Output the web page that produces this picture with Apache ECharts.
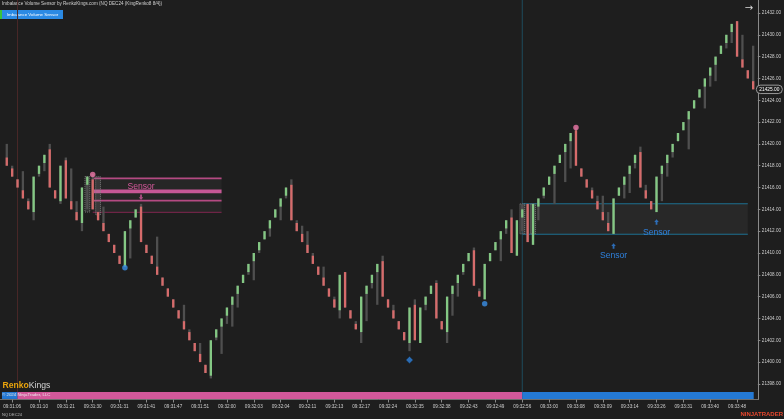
<!DOCTYPE html>
<html><head><meta charset="utf-8">
<script src="https://cdn.jsdelivr.net/npm/echarts@6/dist/echarts.min.js"></script>
<style>html,body{margin:0;padding:0;background:#1e1e1e;}#c{width:784px;height:419px;}</style>
</head><body><div id="c"></div><script>
// ---- DATA ----
const opens=[21418.75,21417.75,21416.75,21415.75,21414.75,21413.75,21417.25,21418.25,21419.5,21415.75,
21414.75,21418.5,21414.75,21413.75,21412.75,21416.25,21416.75,21413.75,21412.75,21411.75,
21410.75,21409.75,21408.75,21412.25,21413.25,21414.25,21410.75,21409.75,21408.75,21407.75,
21406.75,21405.75,21404.75,21403.75,21402.75,21401.75,21400.75,21399.75,21398.75,21402.25,
21403.25,21404.25,21405.25,21406.25,21407.25,21408.25,21409.25,21410.25,21411.25,21412.25,
21413.25,21414.25,21415.25,21416.25,21412.75,21411.75,21410.75,21409.75,21408.75,21407.75,
21406.75,21405.75,21404.75,21408.25,21404.75,21403.5,21402.75,21406.25,21407.25,21408.25,
21409.25,21405.75,21404.75,21403.75,21402.75,21401.75,21405.25,21401.75,21405.25,21406.25,
21407.25,21403.75,21402.75,21406.25,21407.25,21408.25,21409.25,21410.25,21406.5,21405.75,
21409.25,21410.25,21411.25,21412.25,21413.25,21409.75,21413.25,21414.5,21410.75,21414.25,
21415.25,21416.25,21417.25,21418.25,21419.25,21420.25,21421.25,21417.75,21416.75,21415.75,
21414.75,21413.75,21412.75,21411.75,21415.25,21416.25,21417.25,21418.25,21419.25,21415.75,
21414.75,21413.75,21417.25,21418.25,21419.25,21420.25,21421.25,21422.25,21423.25,21424.25,
21425.25,21426.25,21427.25,21428.25,21429.25,21430.25,21431.25,21427.75,21426.75,21425.75];
const closes=[21418,21417,21416,21415,21414,21417,21418,21419,21416,21415,
21418,21415,21414,21413,21416,21417,21414,21413,21412,21411,
21410,21409,21412,21413,21414,21411,21410,21409,21408,21407,
21406,21405,21404,21403,21402,21401,21400,21399,21402,21403,
21404,21405,21406,21407,21408,21409,21410,21411,21412,21413,
21414,21415,21416,21413,21412,21411,21410,21409,21408,21407,
21406,21405,21408,21405,21404,21403,21406,21407,21408,21409,
21406,21405,21404,21403,21402,21405,21402,21405,21406,21407,
21404,21403,21406,21407,21408,21409,21410,21407,21406,21409,
21410,21411,21412,21413,21410,21413,21414,21411,21414.5,21415,
21416,21417,21418,21419,21420,21421,21418,21417,21416,21415,
21414,21413,21412,21415,21416,21417,21418,21419,21416,21415,
21414,21417,21418,21419,21420,21421,21422,21423,21424,21425,
21426,21427,21428,21429,21430,21431,21428,21427,21426,21425];
const highs=[21420,21418,21416.75,21417.5,21415,21417,21418,21419,21420,21415.75,
21418,21418.75,21417.75,21414.75,21416,21417,21417.25,21413.75,21414.25,21411.75,
21410.75,21409.75,21412,21413,21414,21414.5,21410.75,21409.75,21411.5,21407.75,
21406.75,21405.75,21404.75,21405.25,21403,21401.75,21401.75,21399.75,21402,21403,
21404,21405,21406,21407,21408,21409,21410,21411,21412,21413,
21414,21415,21416,21416.75,21413,21412.5,21412,21410,21408.75,21408.75,
21406.75,21406,21408,21408.25,21404.75,21403.75,21406,21407,21408,21409,
21409.75,21405.75,21405.25,21403.75,21402.75,21405,21405.75,21405,21406,21407,
21407.5,21403.75,21406,21407,21408,21409,21410,21410.5,21406.75,21409,
21410,21411,21412,21413,21414,21413,21414.5,21414.5,21414.5,21415,
21416,21417,21418,21419,21420,21421,21421.5,21417.75,21416.75,21416,
21415.25,21415.25,21413.75,21415,21416,21417,21418,21419,21419.75,21416.25,
21414.75,21417,21418,21419,21420,21421,21422,21423,21424,21425,
21426,21427,21428,21429,21430,21431,21431.25,21430,21426.75,21429];
const lows=[21418,21417,21416,21415,21414,21413,21417,21417.5,21416,21415,
21414.5,21415,21414,21413,21412,21414,21414,21413,21412,21411,
21410,21409,21408.75,21409.5,21413.25,21411,21410,21409,21408,21407,
21406,21405,21404,21403,21402,21401,21400,21399,21398.5,21402,
21400.75,21403.5,21403.25,21405,21407.25,21408,21407.5,21410,21411.25,21411.5,
21413.25,21413,21415,21413,21412,21411,21410,21409,21408,21407,
21406,21405,21404,21405,21404,21403,21401.75,21403.75,21406.75,21405.25,
21406,21405,21404,21403,21402,21401,21402,21401.75,21404.75,21406.25,
21404,21403,21401.75,21404.25,21406,21408,21409.25,21407,21406,21405.75,
21409.25,21410.25,21409.25,21411.75,21410,21409.75,21412,21411,21410.75,21413,
21415,21416.25,21414.5,21418.25,21416.5,21417.75,21418,21417,21416,21415,
21414,21413,21412,21411.75,21415.25,21415,21415.5,21417.75,21416,21415,
21414,21413.75,21414.75,21417,21418.75,21420.25,21421.25,21419.5,21423.25,21424.25,
21423.25,21425.25,21425.75,21428.25,21428.75,21429.25,21428,21427,21426,21425];
const tickIdx=[1,6,11,16,21,26,31,36,41,46,51,56,61,66,71,76,81,86,91,96,101,106,111,116,121,126,131,136];
const timeLabels=['09:31:06','09:31:10','09:31:21','09:31:30','09:31:31','09:31:41','09:31:47','09:31:51','09:32:00','09:32:03','09:32:04','09:32:11','09:32:13','09:32:17','09:32:24','09:32:35','09:32:38','09:32:43','09:32:49','09:32:56','09:33:00','09:33:08','09:33:09','09:33:14','09:33:26','09:33:31','09:33:40','09:33:48'];
const priceTicks=[21398,21400,21402,21404,21406,21408,21410,21412,21414,21416,21418,21420,21422,21424,21426,21428,21430,21432];
// zones: [fromIdx, toIdx, top, bottom, kind]
const zones=[[16,40,21416.85,21413.73,'pink'],[96,138,21414.52,21411.72,'blue']];
const pinkZoneInner=[21415.65,21414.8];
// imbalance cells: [idx, top, bottom]
const cells=[[15,21417,21413.75],[17,21417,21413.5],[96,21414.5,21411.75],[98,21414.5,21411.75]];
const pinkDots=[[16,21417.2],[106,21421.5]];
const blueDots=[[22,21408.65],[89,21405.35]];
const blueDiamonds=[[75,21400.2]];
const pinkArrows=[[25,21415.1]];
const blueArrows=[[113,21410.65],[121,21412.85]];
const sensorTexts=[[25,21416.1,'pink'],[113,21409.8,'blue'],[121,21411.9,'blue']];
const sessionLines=[[2,'maroon'],[96,'teal']];
const strip=[[-0.9,2,'blue'],[2,96,'pink'],[96,139.1,'blue']];

// ---- STYLE ----
const BG='#1e1e1e', GREEN='#84c884', RED='#d66b6b', WICK='#4f4f4f';
const PINK='#d2589a', BLUE='#2479d4', SBLUE='#2f80dc';
const FONT='"Liberation Sans", Arial, sans-serif';
const XMIN=-1.264, XMAX=139.87;
const YMIN=21396.57, YMAX=21433.19;
const STRIP_TOP=21397.26, STRIP_BOT=21396.62;

const candleData=opens.map((o,i)=>[i,o,closes[i],lows[i],highs[i]]);
const labelMap={}; tickIdx.forEach((t,k)=>labelMap[t]=timeLabels[k]);
const lastClose=closes[closes.length-1];

const chart=echarts.init(document.getElementById('c'),null,{renderer:'canvas'});
chart.setOption({
  backgroundColor:BG,
  animation:false,
  grid:{left:0,right:25,top:0,bottom:19.5},
  xAxis:{type:'value',min:XMIN,max:XMAX,
    axisLine:{show:true,onZero:false,lineStyle:{color:'#6e6e6e',width:1}},
    axisTick:{show:true,length:3,customValues:tickIdx,lineStyle:{color:'#8a8a8a'}},
    axisLabel:{customValues:tickIdx,formatter:v=>labelMap[v]||'',color:'#cfcfcf',fontSize:4.6,fontFamily:FONT,margin:5},
    splitLine:{show:false}},
  yAxis:{type:'value',position:'right',min:YMIN,max:YMAX,
    axisLine:{show:true,onZero:false,lineStyle:{color:'#8a8a8a',width:1}},
    axisTick:{show:true,length:2.5,customValues:priceTicks,lineStyle:{color:'#8a8a8a'}},
    axisLabel:{customValues:priceTicks,formatter:v=>v.toFixed(2),color:'#cfcfcf',fontSize:4.6,fontFamily:FONT,margin:4},
    splitLine:{show:false}},
  graphic:[
    {type:'text',left:2,top:1.5,style:{text:'Imbalance Volume Sensor by RenkoKings.com (NQ DEC24 (KingRenko8 8/4))',fill:'#d0d0d0',fontSize:4.6,fontFamily:FONT}},
    {type:'rect',shape:{x:0,y:10,width:2,height:9},style:{fill:'#3bc23b'}},
    {type:'rect',shape:{x:2,y:10,width:61,height:9},style:{fill:'#2b8ae4'}},
    {type:'text',x:32.5,y:14.5,style:{text:'Imbalance Volume Sensor',fill:'#ffffff',fontSize:4.4,fontFamily:FONT,align:'center',verticalAlign:'middle'}},
    {type:'text',x:749,y:8,style:{text:'→',fill:'#dcdcdc',fontSize:10,fontFamily:'DejaVu Sans',align:'center',verticalAlign:'middle'}},
    {type:'text',x:2.5,y:385.5,style:{rich:{a:{fill:'#e9a30c',fontSize:8.6,fontWeight:'bold',fontFamily:FONT},b:{fill:'#d4d4d4',fontSize:8.6,fontFamily:FONT}},text:'{a|Renko}{b|Kings}',verticalAlign:'middle'},z:20},
    {type:'text',x:2,y:394.7,style:{text:'© 2024 NinjaTrader, LLC',fill:'#e8e8e8',fontSize:4.4,fontFamily:FONT,verticalAlign:'middle'},z:20},
    {type:'text',x:2,y:415,style:{text:'NQ DEC24',fill:'#bdbdbd',fontSize:4,fontFamily:FONT,verticalAlign:'middle'}},
    {type:'text',x:783,y:414,style:{text:'NINJATRADER',fill:'#e8472e',fontSize:6,fontWeight:'bold',fontFamily:FONT,align:'right',verticalAlign:'middle'}}
  ],
  series:[
    {type:'custom',name:'zones',z:1,data:zones,renderItem:(p,api)=>{
      const z=zones[p.dataIndex];
      const a=api.coord([z[0],z[2]]), b=api.coord([z[1],z[3]]);
      const ch=[{type:'rect',shape:{x:a[0],y:a[1],width:b[0]-a[0],height:b[1]-a[1]},style:{fill:z[4]==='pink'?'#262626':'#282828'}}];
      if(z[4]==='pink'){
        const m1=api.coord([z[0],pinkZoneInner[0]]), m2=api.coord([z[0],pinkZoneInner[1]]);
        ch.push({type:'rect',shape:{x:a[0],y:a[1]-0.8,width:b[0]-a[0],height:1.8},style:{fill:'#b44a82'}});
        ch.push({type:'rect',shape:{x:a[0],y:m1[1]-1.8,width:b[0]-a[0],height:3.6},style:{fill:'#c65795'}});
        ch.push({type:'rect',shape:{x:a[0],y:m2[1]-0.9,width:b[0]-a[0],height:1.8},style:{fill:'#b44a82'}});
        ch.push({type:'rect',shape:{x:a[0],y:b[1]-0.6,width:b[0]-a[0],height:1.2},style:{fill:'#6e2446'}});
      } else {
        ch.push({type:'rect',shape:{x:a[0],y:a[1]-0.5,width:b[0]-a[0],height:1},style:{fill:'#1d6f90'}});
        ch.push({type:'rect',shape:{x:a[0],y:b[1]-0.5,width:b[0]-a[0],height:1},style:{fill:'#1d6f90'}});
      }
      return {type:'group',children:ch};
    }},
    {type:'custom',name:'sessions',z:2,data:sessionLines,renderItem:(p,api)=>{
      const s=sessionLines[p.dataIndex];
      const a=api.coord([s[0],YMAX]), b=api.coord([s[0],STRIP_BOT]);
      return {type:'rect',shape:{x:a[0]-0.5,y:a[1],width:1,height:b[1]-a[1]},style:{fill:s[1]==='maroon'?'#4a2828':'#1f4b5c'}};
    }},
    {type:'custom',name:'strip',z:3,data:strip,renderItem:(p,api)=>{
      const s=strip[p.dataIndex];
      const a=api.coord([s[0],STRIP_TOP]), b=api.coord([s[1],STRIP_BOT]);
      return {type:'rect',shape:{x:a[0],y:a[1],width:b[0]-a[0],height:b[1]-a[1]},style:{fill:s[2]==='pink'?PINK:BLUE}};
    }},
    {type:'custom',name:'cells',z:4,data:cells,renderItem:(p,api)=>{
      const c=cells[p.dataIndex];
      const a=api.coord([c[0],c[1]]), b=api.coord([c[0],c[2]]);
      return {type:'rect',shape:{x:a[0]-2.4,y:a[1],width:4.8,height:b[1]-a[1]},style:{fill:'rgba(150,150,150,0.18)',stroke:'#8a8a8a',lineWidth:0.8,lineDash:[1,1]}};
    }},
    {type:'custom',name:'candles',z:5,data:candleData,encode:{x:0,y:[1,2,3,4]},renderItem:(p,api)=>{
      const i=api.value(0),o=api.value(1),c=api.value(2),l=api.value(3),h=api.value(4);
      const t=api.coord([i,h]),bt=api.coord([i,l]),po=api.coord([i,o]),pc=api.coord([i,c]);
      const x=t[0], w=2.3;
      return {type:'group',children:[
        {type:'rect',shape:{x:x-w/2,y:t[1],width:w,height:Math.max(1,bt[1]-t[1])},style:{fill:WICK}},
        {type:'rect',shape:{x:x-w/2,y:Math.min(po[1],pc[1]),width:w,height:Math.max(1,Math.abs(po[1]-pc[1]))},style:{fill:c>o?GREEN:RED}}
      ]};
    }},
    {type:'scatter',name:'pinkDots',z:6,data:pinkDots,symbol:'circle',symbolSize:5.5,itemStyle:{color:'#ee77a8'}},
    {type:'scatter',name:'blueDots',z:6,data:blueDots,symbol:'circle',symbolSize:5.5,itemStyle:{color:'#3a8ee6'}},
    {type:'scatter',name:'diamonds',z:6,data:blueDiamonds,symbol:'diamond',symbolSize:7,itemStyle:{color:'#2f7fd8',borderColor:'#103050',borderWidth:0.6}},
    {type:'scatter',name:'pinkArrows',z:6,data:pinkArrows,symbol:'path://M3,10 L7,10 L7,5 L10,5 L5,0 L0,5 L3,5 Z',symbolRotate:180,symbolSize:[4.5,5.5],itemStyle:{color:'#d0579a'}},
    {type:'scatter',name:'blueArrows',z:6,data:blueArrows,symbol:'path://M3,10 L7,10 L7,5 L10,5 L5,0 L0,5 L3,5 Z',symbolSize:[4.5,5.5],itemStyle:{color:SBLUE}},
    {type:'custom',name:'sensorText',z:7,data:sensorTexts,renderItem:(p,api)=>{
      const s=sensorTexts[p.dataIndex];
      const a=api.coord([s[0],s[1]]);
      return {type:'text',x:a[0],y:a[1],style:{text:'Sensor',fill:s[2]==='pink'?'#d4599b':SBLUE,fontSize:8.6,fontFamily:FONT,align:'center',verticalAlign:'middle'}};
    }},
    {type:'custom',name:'lastPrice',z:30,clip:false,data:[[XMAX,lastClose]],renderItem:(p,api)=>{
      const a=api.coord([api.value(0),api.value(1)]);
      return {type:'group',children:[
        {type:'rect',shape:{x:a[0]-1.5,y:a[1]-4.2,width:26,height:8.4,r:4},style:{fill:'#1f1f1f',stroke:'#b8b8b8',lineWidth:0.8}},
        {type:'text',x:a[0]+11.5,y:a[1]+0.2,style:{text:api.value(1).toFixed(2),fill:'#ffffff',fontSize:4.8,fontFamily:FONT,align:'center',verticalAlign:'middle'}}
      ]};
    }}
  ]
});
</script></body></html>
